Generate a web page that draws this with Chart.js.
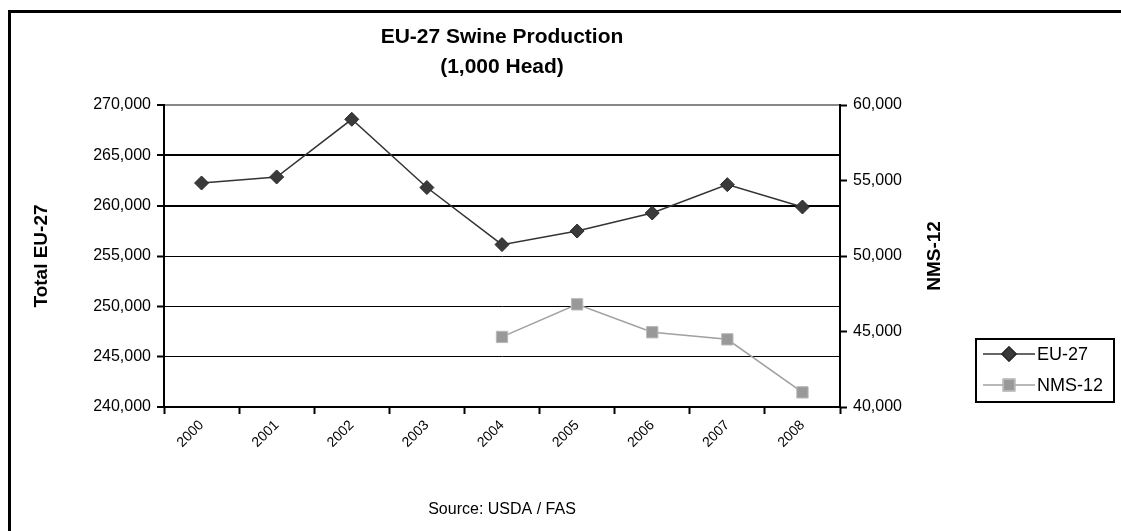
<!DOCTYPE html>
<html>
<head>
  <title>EU-27 Swine Production</title>
  <script src="https://cdn.jsdelivr.net/npm/chart.js"></script>
  <style>
    body {
      margin: 0;
      background: white;
    }
    #wrap {
      width: 1121px;
      height: 531px;
    }
  </style>
</head>
<body>
  <div id="wrap"><canvas id="chart" width="1121" height="531"></canvas></div>

  <script>
    const years = ["2000", "2001", "2002", "2003", "2004", "2005", "2006", "2007", "2008"];
    const eu27 = [262250, 262850, 268580, 261800, 256130, 257480, 259270, 262090, 259870];
    const nms12 = [null, null, null, null, 44640, 46800, 44950, 44480, 40970];
    const leftTicks = [240000, 245000, 250000, 255000, 260000, 265000, 270000];
    const rightTicks = [40000, 45000, 50000, 55000, 60000];

    const FONT = "Arial, 'Liberation Sans', sans-serif";

    // frame, titles, axis titles, source note and the boxed legend
    const decor = {
      id: "decor",
      beforeDraw(chart) {
        const ctx = chart.ctx;
        ctx.save();
        ctx.fillStyle = "white";
        ctx.fillRect(0, 0, chart.width, chart.height);
        ctx.strokeStyle = "black";
        ctx.lineWidth = 3;
        ctx.beginPath();
        ctx.moveTo(9.5, chart.height + 5);
        ctx.lineTo(9.5, 11.5);
        ctx.lineTo(chart.width + 5, 11.5);
        ctx.stroke();
        ctx.restore();
      },
      afterDraw(chart) {
        const ctx = chart.ctx;
        const area = chart.chartArea;
        const cx = (area.left + area.right) / 2;
        ctx.save();
        ctx.fillStyle = "black";
        ctx.textAlign = "center";
        ctx.textBaseline = "middle";
        ctx.font = "bold 21px " + FONT;
        ctx.fillText("EU-27 Swine Production", cx, 37);
        ctx.fillText("(1,000 Head)", cx, 67);

        ctx.font = "16px " + FONT;
        ctx.fillText("Source: USDA / FAS", cx, 510);

        ctx.font = "bold 19px " + FONT;
        ctx.save();
        ctx.translate(42, (area.top + area.bottom) / 2);
        ctx.rotate(-Math.PI / 2);
        ctx.fillText("Total EU-27", 0, 0);
        ctx.restore();
        ctx.save();
        ctx.translate(935, (area.top + area.bottom) / 2);
        ctx.rotate(-Math.PI / 2);
        ctx.fillText("NMS-12", 0, 0);
        ctx.restore();

        // legend box
        ctx.lineWidth = 2;
        ctx.strokeStyle = "black";
        ctx.strokeRect(976, 339, 138, 63);
        const rows = [
          { label: "EU-27", ds: chart.data.datasets[0], y: 354 },
          { label: "NMS-12", ds: chart.data.datasets[1], y: 385 }
        ];
        rows.forEach(r => {
          ctx.strokeStyle = r.ds.borderColor;
          ctx.lineWidth = 1.5;
          ctx.beginPath();
          ctx.moveTo(983, r.y);
          ctx.lineTo(1035, r.y);
          ctx.stroke();
          Chart.helpers.drawPoint(ctx, {
            pointStyle: r.ds.pointStyle,
            radius: r.ds.pointRadius,
            borderWidth: 1
          }, 1009, r.y);
          ctx.fillStyle = r.ds.pointBackgroundColor;
          ctx.strokeStyle = r.ds.pointBorderColor;
          ctx.fill();
          ctx.stroke();
          ctx.fillStyle = "black";
          ctx.textAlign = "left";
          ctx.font = "18px " + FONT;
          ctx.fillText(r.label, 1037, r.y + 1);
        });
        ctx.restore();
      }
    };

    const bigLines = [265000, 260000];

    new Chart(document.getElementById("chart"), {
      type: "line",
      data: {
        labels: years,
        datasets: [
          {
            label: "EU-27",
            data: eu27,
            yAxisID: "y",
            borderColor: "#333333",
            borderWidth: 1.5,
            pointStyle: "rectRot",
            pointRadius: 7,
            pointBackgroundColor: "#3a3a3a",
            pointBorderColor: "#2a2a2a",
            pointBorderWidth: 1,
            tension: 0
          },
          {
            label: "NMS-12",
            data: nms12,
            yAxisID: "y1",
            borderColor: "#a0a0a0",
            borderWidth: 1.5,
            pointStyle: "rect",
            pointRadius: 8,
            pointBackgroundColor: "#999999",
            pointBorderColor: "#b8b8b8",
            pointBorderWidth: 1,
            tension: 0,
            spanGaps: false
          }
        ]
      },
      options: {
        responsive: false,
        animation: false,
        events: [],
        layout: { padding: { left: 0, right: 0, top: 105, bottom: 64 } },
        plugins: {
          legend: { display: false },
          title: { display: false },
          tooltip: { enabled: false }
        },
        scales: {
          x: {
            offset: true,
            afterFit: s => { s.height = 60; },
            border: { display: true, color: "black", width: 2 },
            grid: {
              offset: true,
              drawOnChartArea: false,
              drawTicks: true,
              tickLength: 7,
              tickColor: "black",
              tickWidth: 2
            },
            ticks: {
              color: "black",
              font: { family: FONT, size: 14 },
              minRotation: 45,
              maxRotation: 45,
              padding: 3,
              autoSkip: false
            }
          },
          y: {
            position: "left",
            min: 240000,
            max: 270000,
            afterFit: s => { s.width = 164; },
            afterBuildTicks: s => { s.ticks = leftTicks.map(v => ({ value: v })); },
            border: { display: true, color: "black", width: 2 },
            grid: {
              color: ctx => (ctx.tick && ctx.tick.value === 270000 ? "#888888" : "black"),
              lineWidth: ctx => {
                if (!ctx.tick) return 1;
                if (ctx.tick.value === 240000) return 0;
                return bigLines.includes(ctx.tick.value) || ctx.tick.value === 270000 ? 2 : 1;
              },
              drawTicks: true,
              tickLength: 7,
              tickColor: "black",
              tickWidth: 2
            },
            ticks: {
              color: "black",
              font: { family: FONT, size: 16 },
              padding: 6,
              callback: v => v.toLocaleString("en-US")
            }
          },
          y1: {
            position: "right",
            min: 40000,
            max: 60000,
            afterFit: s => { s.width = 281; },
            afterBuildTicks: s => { s.ticks = rightTicks.map(v => ({ value: v })); },
            border: { display: true, color: "black", width: 2 },
            grid: {
              drawOnChartArea: false,
              drawTicks: true,
              tickLength: 7,
              tickColor: "black",
              tickWidth: 2
            },
            ticks: {
              color: "black",
              font: { family: FONT, size: 16 },
              padding: 6,
              callback: v => v.toLocaleString("en-US")
            }
          }
        }
      },
      plugins: [decor]
    });
  </script>
</body>
</html>
